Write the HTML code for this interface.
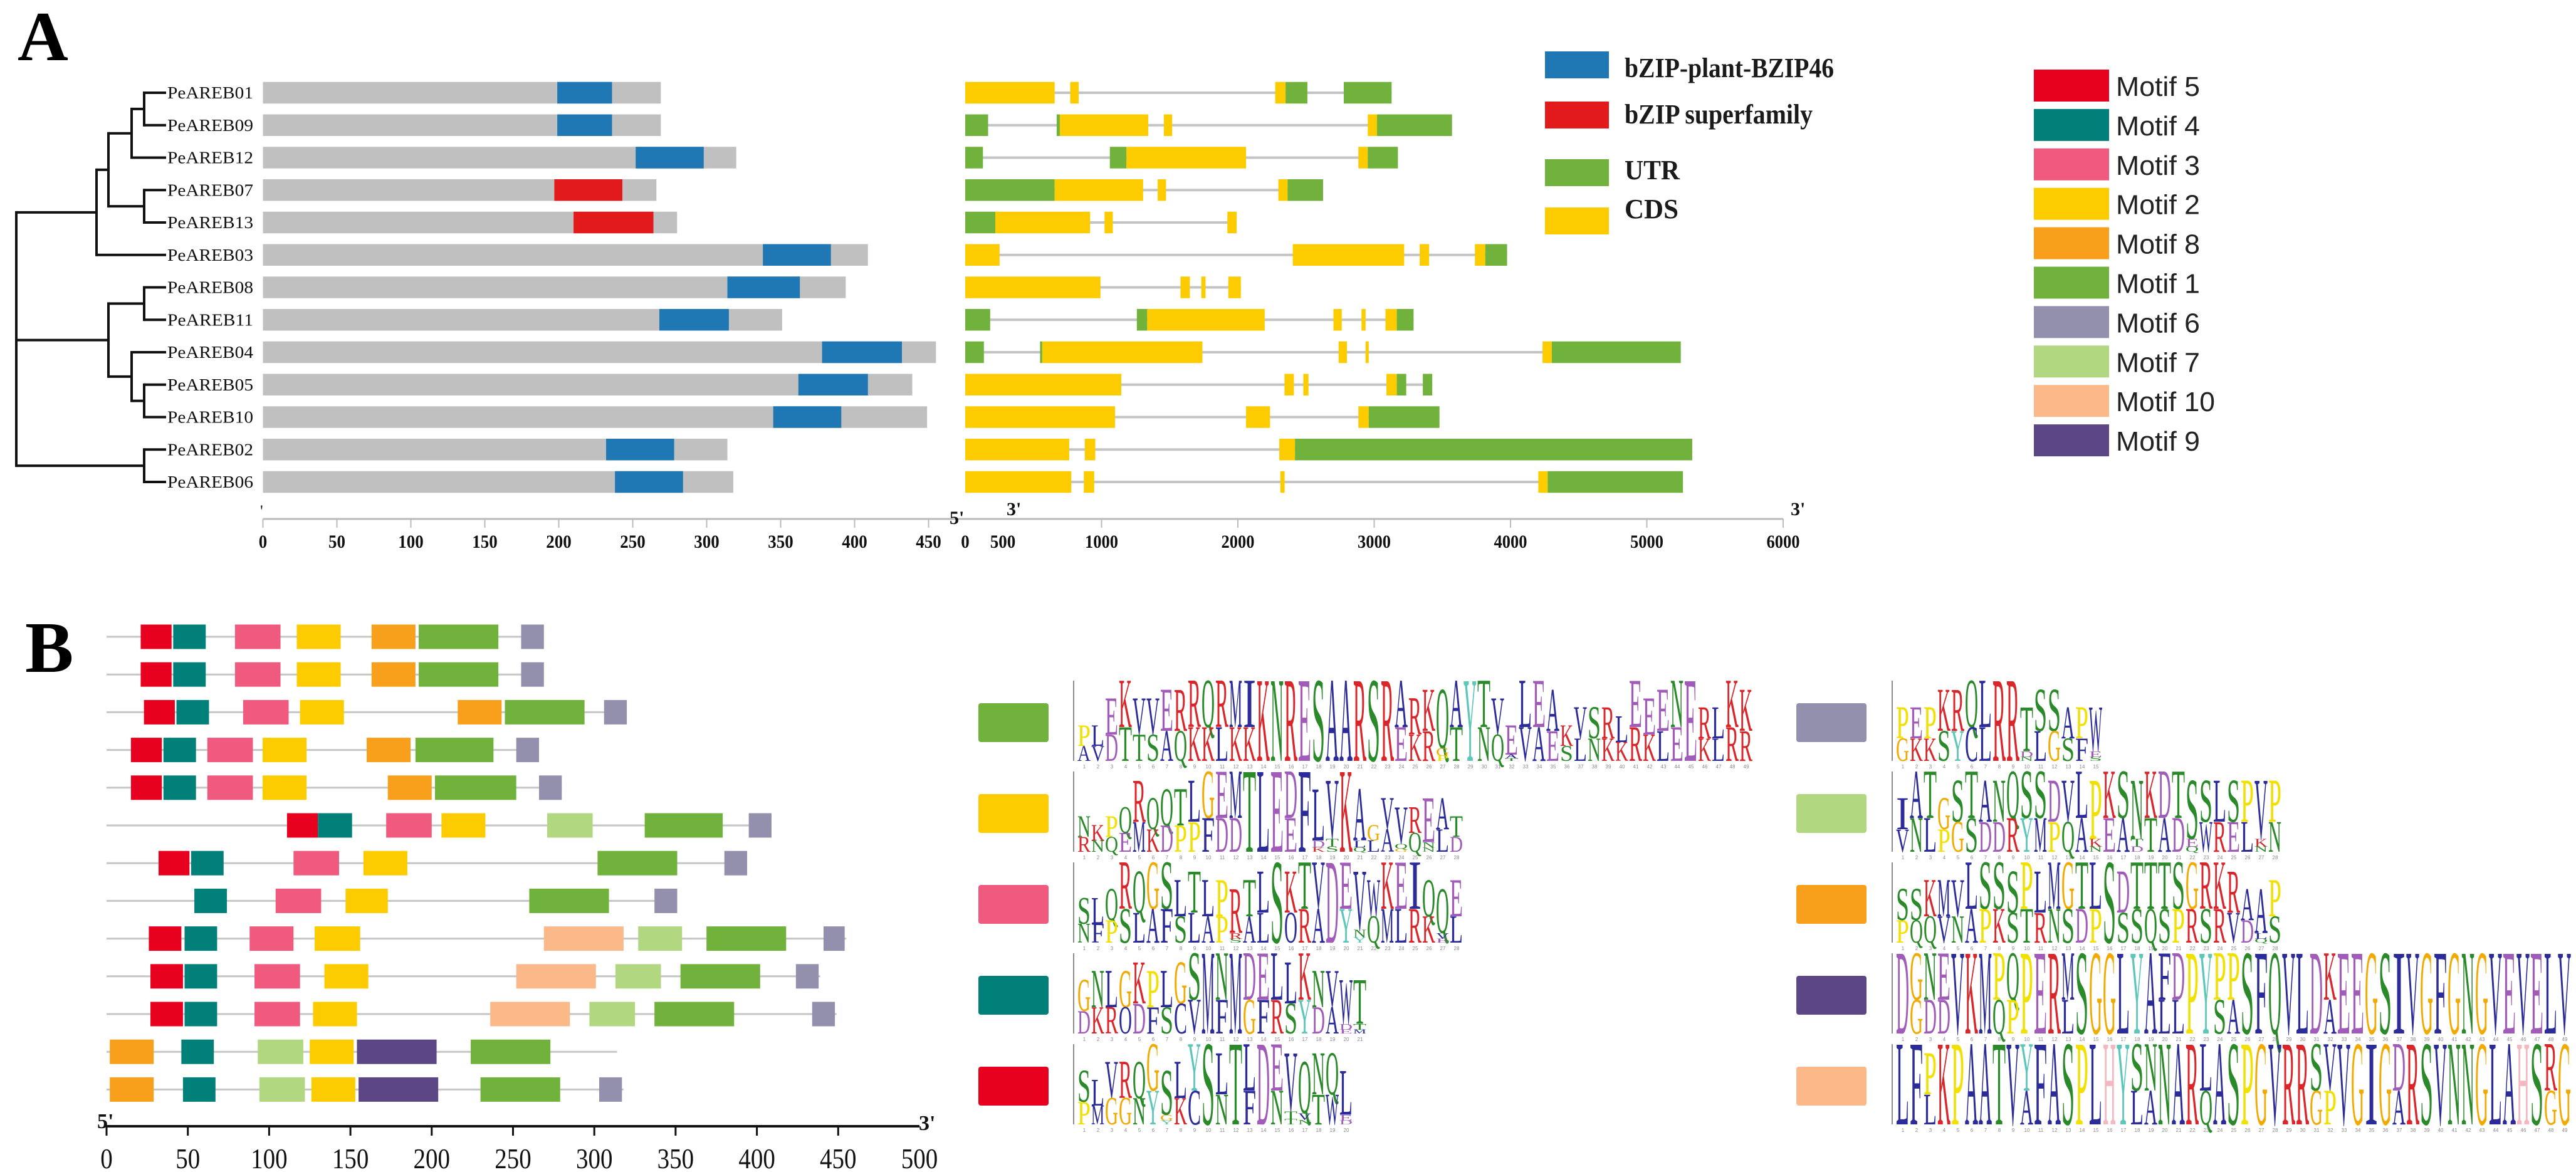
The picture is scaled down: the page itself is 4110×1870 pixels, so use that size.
<!DOCTYPE html>
<html><head><meta charset="utf-8"><style>
html,body{margin:0;padding:0;background:#fff;}
svg{display:block;}
</style></head><body>
<svg id="fig" xmlns="http://www.w3.org/2000/svg" width="4110" height="1870" viewBox="0 0 4110 1870">
<rect x="0" y="0" width="4110" height="1870" fill="#fff"/>
<text x="28" y="96" font-family="Liberation Serif" font-weight="bold" font-size="112">A</text>
<text x="40" y="1072" font-family="Liberation Serif" font-weight="bold" font-size="116">B</text>
<g id="tree"></g>
<g id="prot"></g>
<g id="gene"></g>
<g id="legA"></g>
<g id="legM"></g>
<g id="motB"></g>
<g id="logos"></g>
</svg>
<script>
// ---------- data ----------
const geneNames = ["PeAREB01","PeAREB09","PeAREB12","PeAREB07","PeAREB13","PeAREB03","PeAREB08","PeAREB11","PeAREB04","PeAREB05","PeAREB10","PeAREB02","PeAREB06"];
const proteinLengths = [269,269,320,266,280,409,394,351,455,439,449,314,318];
const domainStarts = [199,199,252,197,210,338,314,268,378,362,345,232,238];
const domainEnds   = [236,236,298,243,264,384,363,315,432,409,391,278,284];
const domainTypes  = ["b","b","b","r","r","b","b","b","b","b","b","b","b"];
const proteinTicks = [0,50,100,150,200,250,300,350,400,450];
// gene segments: [start,end,type] type C=CDS U=UTR
const geneSegments = [
 [[0,656,"C"],[770,832,"C"],[2274,2350,"C"],[2350,2510,"U"],[2777,3128,"U"]],
 [[0,168,"U"],[671,694,"U"],[694,1343,"C"],[1457,1518,"C"],[2953,3021,"C"],[3021,3571,"U"]],
 [[0,130,"U"],[1061,1183,"U"],[1183,2060,"C"],[2884,2953,"C"],[2953,3174,"U"]],
 [[0,656,"U"],[656,1305,"C"],[1412,1473,"C"],[2297,2365,"C"],[2365,2625,"U"]],
 [[0,221,"U"],[221,916,"C"],[1022,1083,"C"],[1923,1991,"C"]],
 [[0,252,"C"],[2403,3220,"C"],[3334,3403,"C"],[3739,3815,"C"],[3815,3975,"U"]],
 [[0,992,"C"],[1579,1648,"C"],[1732,1763,"C"],[1930,2022,"C"]],
 [[0,183,"U"],[1259,1335,"U"],[1335,2197,"C"],[2701,2762,"C"],[2907,2937,"C"],[3083,3166,"C"],[3166,3289,"U"]],
 [[0,137,"U"],[549,565,"U"],[565,1740,"C"],[2739,2800,"C"],[2937,2960,"C"],[4235,4303,"C"],[4303,5249,"U"]],
 [[0,1145,"C"],[2342,2411,"C"],[2480,2518,"C"],[3090,3166,"C"],[3166,3235,"U"],[3357,3426,"U"]],
 [[0,1099,"C"],[2060,2236,"C"],[2884,2960,"C"],[2960,3479,"U"]],
 [[0,763,"C"],[877,954,"C"],[2304,2419,"C"],[2419,5333,"U"]],
 [[0,778,"C"],[870,946,"C"],[2312,2343,"C"],[4204,4273,"C"],[4273,5265,"U"]]
];
const geneTicks = [1000,2000,3000,4000,5000,6000];
// motif rows: [motif, start, end]
const motifRows = [
 [[5,21,40],[4,41,61],[3,79,107],[2,117,144],[8,163,190],[1,192,241],[6,255,269]],
 [[5,21,40],[4,41,61],[3,79,107],[2,117,144],[8,163,190],[1,192,241],[6,255,269]],
 [[5,23,42],[4,43,63],[3,84,112],[2,119,146],[8,216,243],[1,245,294],[6,306,320]],
 [[5,15,34],[4,35,55],[3,62,90],[2,96,123],[8,160,187],[1,190,238],[6,252,266]],
 [[5,15,34],[4,35,55],[3,62,90],[2,96,123],[8,173,200],[1,202,252],[6,266,280]],
 [[5,111,130],[4,130,151],[3,172,200],[2,206,233],[7,271,299],[1,331,379],[6,395,409]],
 [[5,32,51],[4,52,72],[3,115,143],[2,158,185],[1,302,351],[6,380,394]],
 [[4,54,74],[3,104,132],[2,147,173],[1,260,309],[6,337,351]],
 [[5,26,46],[4,48,68],[3,88,115],[2,128,156],[10,269,318],[7,327,354],[1,369,418],[6,441,454]],
 [[5,27,47],[4,48,68],[3,91,119],[2,134,161],[10,252,301],[7,313,341],[1,353,402],[6,424,438]],
 [[5,27,47],[4,48,68],[3,91,119],[2,127,154],[10,236,285],[7,297,325],[1,337,386],[6,434,448]],
 [[8,2,29],[4,46,66],[7,93,121],[2,125,152],[9,154,203],[1,224,273]],
 [[8,2,29],[4,47,67],[7,94,122],[2,126,153],[9,155,204],[1,230,279],[6,303,317]]
];
const motifTicks = [0,50,100,150,200,250,300,350,400,450,500];
const motifLegendOrder = [5,4,3,2,8,1,6,7,10,9];
const logoLeft  = [1,2,3,4,5];
const logoRight = [6,7,8,9,10];
const logoSeq = {
 1:"PLEKVVERRQRMIKNRESAARSRARKQAYTVELEAKVSRLEEENERLKK",
 2:"NKPQRQQTLGEMTLEDFLVKAGVVREAT",
 3:"SLQRQGSLTLPRTLSKTVDEVWKEIQQE",
 4:"GNLGKPLGSMNMDELLKNVWT",
 5:"SLVRQGSLYSLTLDEVQNQL",
 6:"PEPKRQLRRTSSAPW",
 7:"IATGSTANQSSDVLPKSNKDTSSLSPVP",
 8:"SSKMVLSSSPLMGTLSDTTTSGRKRAAP",
 9:"DGNEVKMPQPERMSGGLYAFDPYPPSFQVLDKEEGSIVGFGNGVEVELV",
 10:"LFPKPAATVYFASPLHYSNNARLASPGVRRSVVGIGDRSVNNGLAHSRGM"
};
const logoSec = {
 1:"AVDTTSAQKKLKK..........EKR.T.NQ.VAESLNKKRKLE.KLRR",
 2:"RNQEMKDPPFDD...E.....LA.Q.LDKS",
 3:"NFPSLAFSLAP.AL.ORA.Y.QMLRK.LKN",
 4:"DKRODFSCV.F.GFRSYDA.",
 5:"PMGGNY.KC.N.F.N..TW.",
 6:"GKKSYCL...LGSF.",
 7:"VNLPGSDDRYMPQA.EA.TAD.WREL.N",
 8:"PQQVNAPKSTRNSDP.SSQSPRSRVD.S",
 9:".GDD...QP...L......LL..SA......A.............",
 10:"..L......A.......LA...Q.......GP....A..........G."
};
const logoHts = {
 1:"3368667788999999999999996779986388735554967995597",
 2:"3234756678899999967962544553",
 3:"4458788676656787999976988656",
 4:"56667667999989879665",
 5:"5466685688798997677",
 6:"5557799995775",
 7:"5895787788977878878887777777",
 8:"5566689978799999799889997556",
 9:"99889999999999999999999999999999999999999999999999",
 10:"99799999999999999999999999999999999999999999999999"
};
const motifColors = {1:"#70b23c",2:"#fccc00",3:"#f05a7e",4:"#008078",5:"#e8001f",6:"#9390ae",7:"#b1d880",8:"#f8a01c",9:"#5d4685",10:"#fbb98a"};
const aaColor = {A:"#2b2b9a",C:"#2b2b9a",F:"#2b2b9a",I:"#2b2b9a",L:"#2b2b9a",V:"#2b2b9a",W:"#2b2b9a",M:"#2b2b9a",
 N:"#2a8a2a",Q:"#2a8a2a",S:"#2a8a2a",T:"#2a8a2a",D:"#a05cb8",E:"#a05cb8",K:"#d9262a",R:"#d9262a",H:"#f4b8c0",G:"#f2a900",P:"#f2e000",Y:"#5cc7b8"};

// ---------- helpers ----------
const NS="http://www.w3.org/2000/svg";
function mk(tag,attrs,parent){const e=document.createElementNS(NS,tag);for(const k in attrs)e.setAttribute(k,attrs[k]);parent.appendChild(e);return e;}
const $=id=>document.getElementById(id);

// ---------- Panel A scales ----------
const rowY = i => 148 + 51.75*i;
const rowH = 34.5;
const px = aa => 419.5 + aa*2.36;
const gx = bp => 1540 + bp*0.2175;

// tree
const tree={x:26,c:[{x:154,c:[{x:173,c:[{x:210,c:[{x:230,c:[0,1]},2]},{x:230,c:[3,4]}]},5]},
 {x:173,c:[{x:230,c:[6,7]},{x:210,c:[8,{x:230,c:[9,10]}]}]},{x:230,c:[11,12]}]};
const T=$("tree");
function drawNode(n){
  const ys=[];
  n.c.forEach(ch=>{
    let y,cx;
    if(typeof ch==="number"){y=rowY(ch);cx=265;}else{y=drawNode(ch);cx=ch.x;}
    ys.push(y);
    const l=mk("line",{x1:n.x,y1:y,x2:cx,y2:y,stroke:"#111","stroke-width":4},T);
    
    
  });
  const v=mk("line",{x1:n.x,y1:Math.min(...ys)-2,x2:n.x,y2:Math.max(...ys)+2,stroke:"#111","stroke-width":4},T);
  
  
  return (Math.min(...ys)+Math.max(...ys))/2;
}
drawNode(tree);

// protein bars
const P=$("prot");
geneNames.forEach((nm,i)=>{
  const cy=rowY(i);
  const t=mk("text",{x:267,y:cy+9,"font-family":"Liberation Serif","font-size":27,textLength:137,lengthAdjust:"spacingAndGlyphs",fill:"#111"},P);
  t.textContent=nm;
  
  
  const r=mk("rect",{x:px(0),y:cy-rowH/2,width:px(proteinLengths[i])-px(0),height:rowH,fill:"#c0c0c0"},P);
  
  
  const d=mk("rect",{x:px(domainStarts[i]),y:cy-rowH/2,width:px(domainEnds[i])-px(domainStarts[i]),height:rowH,fill:domainTypes[i]==="b"?"#1f77b4":"#e31a1c"},P);
  
  
});
const ax=mk("line",{x1:px(0),y1:828,x2:1540,y2:828,stroke:"#bbb","stroke-width":3},P);


proteinTicks.forEach(v=>{
  const tk=mk("line",{x1:px(v),y1:828,x2:px(v),y2:842,stroke:"#bbb","stroke-width":2},P);
  
  
  const s=String(v);
  const tl=mk("text",{x:px(v),y:874,"text-anchor":"middle","font-family":"Liberation Serif","font-weight":"bold","font-size":30,textLength:s.length*13.5,lengthAdjust:"spacingAndGlyphs",fill:"#111"},P);
  tl.textContent=s;
  
  
});
const ap=mk("text",{x:415,y:824,"font-family":"Liberation Serif","font-size":26,fill:"#111"},P);
ap.textContent="'";


const p5=mk("text",{x:1515,y:836,"font-family":"Liberation Serif","font-weight":"bold","font-size":30,fill:"#111"},P);
p5.textContent="5'";



// gene structures
const G=$("gene");
geneSegments.forEach((segs,i)=>{
  const cy=rowY(i);
  const end=segs[segs.length-1][1];
  const ln=mk("line",{x1:gx(0),y1:cy,x2:gx(end),y2:cy,stroke:"#c4c4c4","stroke-width":4},G);
  
  
  segs.forEach(s=>{
    const r=mk("rect",{x:gx(s[0]),y:cy-rowH/2,width:Math.max(2,gx(s[1])-gx(s[0])),height:rowH,fill:s[2]==="C"?"#fccc00":"#70b23c"},G);
    
    
  });
});
const gax=mk("line",{x1:1540,y1:828,x2:gx(6000),y2:828,stroke:"#bbb","stroke-width":3},G);


[[0,1540],[500,1600]].forEach(a=>{
  const tl=mk("text",{x:a[1],y:874,"text-anchor":"middle","font-family":"Liberation Serif","font-weight":"bold","font-size":30,textLength:String(a[0]).length*13.5,lengthAdjust:"spacingAndGlyphs",fill:"#111"},G);
  tl.textContent=String(a[0]);
  
  
});
geneTicks.forEach(v=>{
  const tk=mk("line",{x1:gx(v),y1:828,x2:gx(v),y2:842,stroke:"#bbb","stroke-width":2},G);
  
  
  const tl=mk("text",{x:gx(v),y:874,"text-anchor":"middle","font-family":"Liberation Serif","font-weight":"bold","font-size":30,textLength:53,lengthAdjust:"spacingAndGlyphs",fill:"#111"},G);
  tl.textContent=String(v);
  
  
});
[[1606,"3'"],[2857,"3'"]].forEach(a=>{
  const t=mk("text",{x:a[0],y:822,"font-family":"Liberation Serif","font-weight":"bold","font-size":30,fill:"#111"},G);
  t.textContent=a[1];
  
  
});

// legend A
const LA=$("legA");
[["#1f77b4","bZIP-plant-BZIP46",82,123,334,"bold"],["#e31a1c","bZIP superfamily",162,197,300,"bold"],["#70b23c","UTR",254,286,88,"bold"],["#fccc00","CDS",331,348,86,"bold"]].forEach(l=>{
  const r=mk("rect",{x:2465,y:l[2],width:102,height:43,fill:l[0]},LA);
  
  
  const t=mk("text",{x:2592,y:l[3],"font-family":"Liberation Serif","font-weight":l[5],"font-size":44,textLength:l[4],lengthAdjust:"spacingAndGlyphs",fill:"#1a1a1a"},LA);
  t.textContent=l[1];
  
  
});

// motif legend
const LM=$("legM");
motifLegendOrder.forEach((m,i)=>{
  const y=111+62.9*i;
  const r=mk("rect",{x:3245,y:y,width:120,height:51,fill:motifColors[m]},LM);
  
  
  const t=mk("text",{x:3376,y:y+42,"font-family":"Liberation Sans","font-size":44,textLength:m===10?158:134,lengthAdjust:"spacingAndGlyphs",fill:"#222"},LM);
  t.textContent="Motif "+m;
  
  
});

// ---------- Panel B ----------
const MB=$("motB");
const bx = aa => 170 + aa*2.594;
const bY = i => 1016 + 60.2*i;
const bH = 39;
motifRows.forEach((row,i)=>{
  const cy=bY(i);
  const ln=mk("line",{x1:bx(0),y1:cy,x2:bx(proteinLengths[i]),y2:cy,stroke:"#c6c6c6","stroke-width":3},MB);
  
  
  row.forEach(s=>{
    const r=mk("rect",{x:bx(s[1]),y:cy-bH/2,width:bx(s[2])-bx(s[1]),height:bH,fill:motifColors[s[0]]},MB);
    
    
  });
});
const bax=mk("line",{x1:bx(0),y1:1797,x2:bx(500),y2:1797,stroke:"#111","stroke-width":4},MB);


motifTicks.forEach(v=>{
  if(v<500){
    const tk=mk("line",{x1:bx(v),y1:1797,x2:bx(v),y2:1812,stroke:"#111","stroke-width":3},MB);
    
    
  }
  const s=String(v);
  const tl=mk("text",{x:bx(v),y:1864,"text-anchor":"middle","font-family":"Liberation Serif","font-size":46,textLength:s.length*19.5,lengthAdjust:"spacingAndGlyphs",fill:"#111"},MB);
  tl.textContent=s;
  
  
});
const b5=mk("text",{x:155,y:1800,"font-family":"Liberation Serif","font-weight":"bold","font-size":34,fill:"#111"},MB);
b5.textContent="5'";


const b3=mk("text",{x:1466,y:1803,"font-family":"Liberation Serif","font-weight":"bold","font-size":34,fill:"#111"},MB);
b3.textContent="3'";



// ---------- logos ----------
const LG=$("logos");
const CW=22, LH=128;
function drawLogo(m,x0,base,bxL){
  const sw=mk("rect",{x:bxL,y:base-92,width:112,height:62,rx:4,fill:motifColors[m]},LG);
  
  
  const axl=mk("line",{x1:x0-6,y1:base,x2:x0-6,y2:base-LH,stroke:"#666","stroke-width":1.5},LG);
  
  
  const seq=logoSeq[m], sec=logoSec[m]||"", hts=logoHts[m]||"";
  for(let k=0;k<seq.length;k++){
    const x=x0+k*CW;
    if(x+CW>4112)break;
    const d=parseInt(hts[k]||"5");
    const tot=LH*Math.min(1,(d+1)/9);
    const s2=sec[k]&&sec[k]!=="."?sec[k]:null;
    let topH;
    if(s2) topH=tot*0.58; else if(d>=8) topH=tot; else topH=tot*0.82;
    const ch=seq[k];
    const t=mk("text",{x:x,y:base-tot+topH,"font-family":"Liberation Serif","font-size":topH/0.66,textLength:CW-1,lengthAdjust:"spacingAndGlyphs",fill:aaColor[ch]||"#2b2b9a"},LG);
    t.textContent=ch;
    
    
    const rest=tot-topH;
    if(rest>3){
      const c2=s2||"AVSDEKLNTQRG"[(k*5+m)%12];
      const h2=s2?rest:rest*0.6;
      const t2=mk("text",{x:x,y:base-rest+h2,"font-family":"Liberation Serif","font-size":h2/0.66,textLength:CW-1,lengthAdjust:"spacingAndGlyphs",fill:aaColor[c2]||"#2b2b9a"},LG);
      t2.textContent=c2;
      
      
      if(!s2){
        const c3="MKTPAEDGSNQY"[(k*7+m)%12];
        const h3=rest*0.4;
        const t3=mk("text",{x:x,y:base,"font-family":"Liberation Serif","font-size":h3/0.66,textLength:CW-1,lengthAdjust:"spacingAndGlyphs",fill:aaColor[c3]||"#2b2b9a"},LG);
        t3.textContent=c3;
        
        
      }
    }
    const n=mk("text",{x:x+CW/2,y:base+12,"text-anchor":"middle","font-family":"Liberation Sans","font-size":8,fill:"#888"},LG);
    n.textContent=String(k+1);
    
    
  }
}
logoLeft.forEach((m,i)=>drawLogo(m,1719,1214+145*i,1561));
logoRight.forEach((m,i)=>drawLogo(m,3025,1214+145*i,2866));
</script>
</body></html>
